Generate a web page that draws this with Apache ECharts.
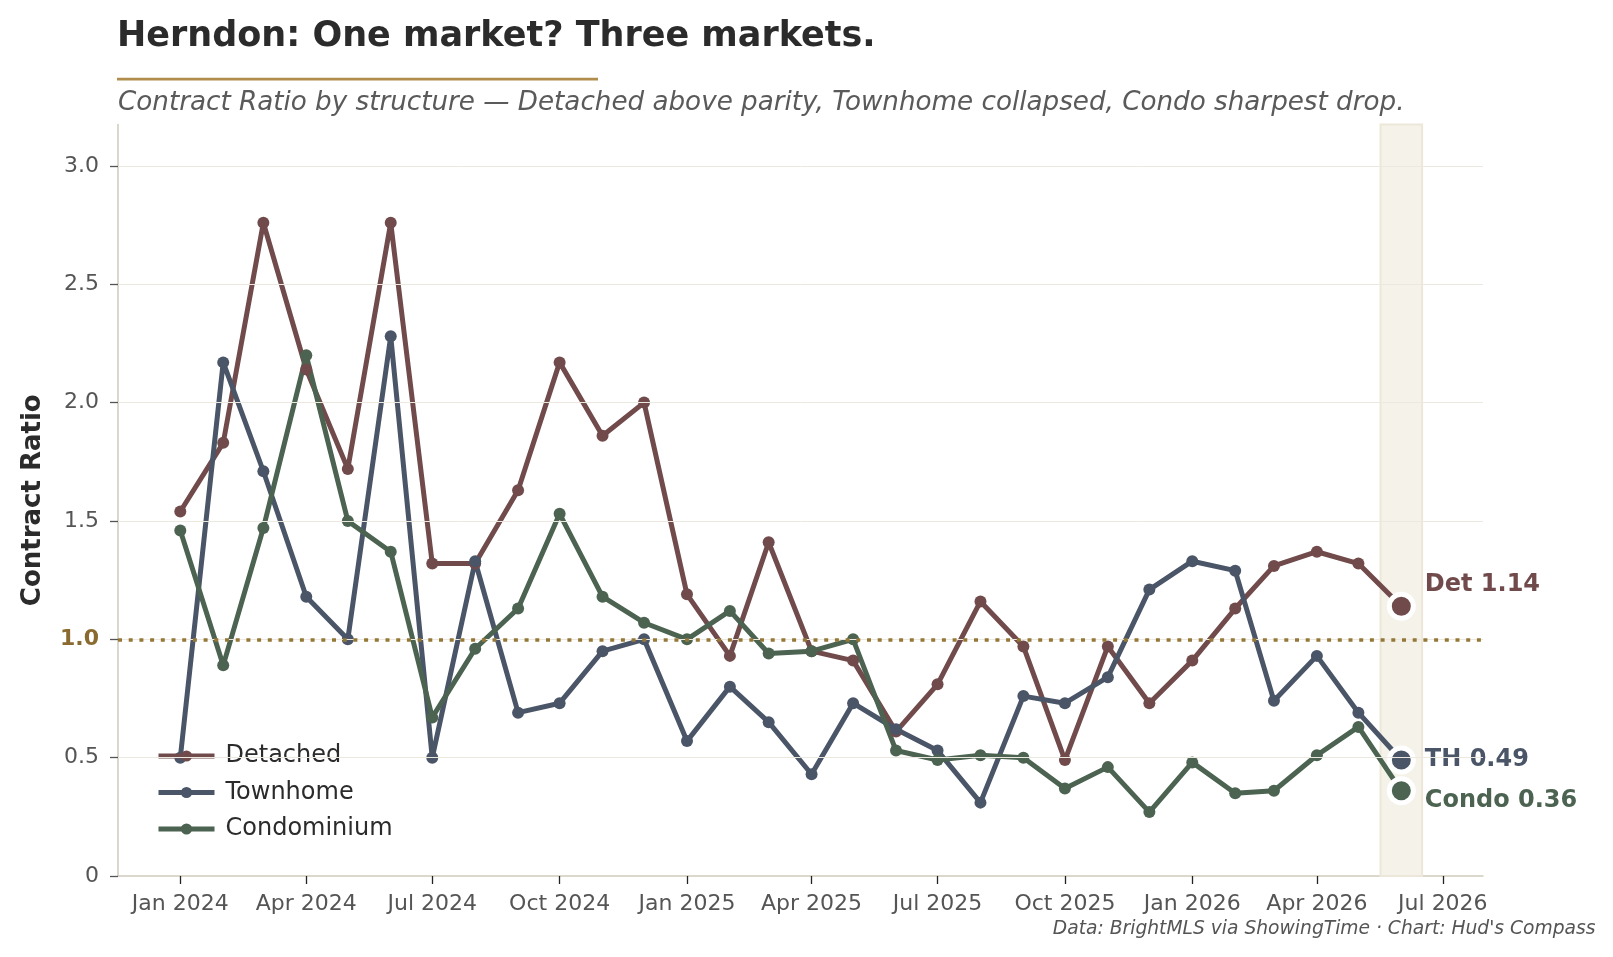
<!DOCTYPE html>
<html>
<head>
<meta charset="utf-8">
<script src="https://cdn.jsdelivr.net/npm/echarts@6/dist/echarts.min.js"></script>
<style>
  html, body { margin: 0; padding: 0; background: #fff; }
  #chart { width: 1613px; height: 957px; }
</style>
</head>
<body>
<div id="chart"></div>
<script>
// monthly contract ratio, Herndon
const months = [
  '2024-01-01', '2024-02-01', '2024-03-01', '2024-04-01', '2024-05-01', '2024-06-01',
  '2024-07-01', '2024-08-01', '2024-09-01', '2024-10-01', '2024-11-01', '2024-12-01',
  '2025-01-01', '2025-02-01', '2025-03-01', '2025-04-01', '2025-05-01', '2025-06-01',
  '2025-07-01', '2025-08-01', '2025-09-01', '2025-10-01', '2025-11-01', '2025-12-01',
  '2026-01-01', '2026-02-01', '2026-03-01', '2026-04-01', '2026-05-01', '2026-06-01'
]
const detached = [1.54, 1.83, 2.76, 2.14, 1.72, 2.76, 1.32, 1.32, 1.63, 2.17, 1.86, 2.00,
  1.19, 0.93, 1.41, 0.95, 0.91, 0.61, 0.81, 1.16, 0.97, 0.49, 0.97, 0.73,
  0.91, 1.13, 1.31, 1.37, 1.32, 1.14]
const townhome = [0.50, 2.17, 1.71, 1.18, 1.00, 2.28, 0.50, 1.33, 0.69, 0.73, 0.95, 1.00,
  0.57, 0.80, 0.65, 0.43, 0.73, 0.62, 0.53, 0.31, 0.76, 0.73, 0.84, 1.21,
  1.33, 1.29, 0.74, 0.93, 0.69, 0.49]
const condo = [1.46, 0.89, 1.47, 2.20, 1.50, 1.37, 0.67, 0.96, 1.13, 1.53, 1.18, 1.07,
  1.00, 1.12, 0.94, 0.95, 1.00, 0.53, 0.49, 0.51, 0.50, 0.37, 0.46, 0.27,
  0.48, 0.35, 0.36, 0.51, 0.63, 0.36]

const seriesNames = ['Detached', 'Townhome', 'Condominium']
const endTags = ['Det', 'TH', 'Condo']
const yTicks = [0, 0.5, 1.0, 1.5, 2.0, 2.5, 3.0]
const xTicks = ['2024-01-01', '2024-04-01', '2024-07-01', '2024-10-01', '2025-01-01', '2025-04-01',
  '2025-07-01', '2025-10-01', '2026-01-01', '2026-04-01', '2026-07-01']
const monthNames = ['Jan', 'Feb', 'Mar', 'Apr', 'May', 'Jun', 'Jul', 'Aug', 'Sep', 'Oct', 'Nov', 'Dec']
const parity = 1.0
const latestBand = ['2026-05-17', '2026-06-16']
const xRange = ['2023-11-17', '2026-07-30']

const colors = ['#714b4b', '#4a5568', '#4b6350']
const gold = '#b08d4a'
const font = '"DejaVu Sans"'

// local-time timestamp so the axis and the formatter agree
const ts = (s) => {
  const [y, m, d] = s.split('-').map(Number)
  return new Date(y, m - 1, d).getTime()
}

const labelOffsets = [[0, -21], [0, 0], [0, 10]]

const buildSeries = (i, vals) => {
  const data = vals.map((v, k) => {
    const item = { value: [ts(months[k]), v] }
    if (k === vals.length - 1) {
      item.symbolSize = 24
      item.itemStyle = { color: colors[i], borderColor: '#fff', borderWidth: 5 }
      item.label = {
        show: true,
        position: 'right',
        distance: 9,
        offset: labelOffsets[i],
        formatter: endTags[i] + ' ' + v.toFixed(2),
        fontFamily: font,
        fontWeight: 'bold',
        fontSize: 24,
        color: colors[i],
      }
    }
    return item
  })
  return {
    name: seriesNames[i],
    type: 'line',
    data,
    symbol: 'circle',
    symbolSize: 12,
    lineStyle: { width: 5, color: colors[i] },
    itemStyle: { color: colors[i] },
    z: 3,
  }
}

const chart = echarts.init(document.getElementById('chart'), null, { renderer: 'canvas' })

const option = {
  animation: false,
  backgroundColor: '#fff',
  textStyle: { fontFamily: font },
  grid: { left: 118, right: 130, top: 124.5, bottom: 81, containLabel: false, outerBoundsMode: 'none' },
  legend: {
    data: seriesNames,
    orient: 'vertical',
    left: 151,
    top: 739,
    itemWidth: 56,
    itemHeight: 14,
    itemGap: 12.5,
    lineStyle: { width: 5 },
    textStyle: { fontSize: 24, color: '#2b2b2b', fontFamily: font, padding: [0, 0, 0, 6] },
  },
  xAxis: {
    // dates as timestamps on a value axis so the quarter ticks can be placed exactly
    type: 'value',
    min: ts(xRange[0]),
    max: ts(xRange[1]),
    splitLine: { show: false },
    axisLine: { show: true, lineStyle: { color: '#cfcabd', width: 1.5 } },
    axisTick: { show: true, length: 8, lineStyle: { color: '#222', width: 1.3 }, customValues: xTicks.map(ts) },
    axisLabel: {
      customValues: xTicks.map(ts),
      margin: 17,
      fontSize: 22,
      color: '#555',
      fontFamily: font,
      formatter: (v) => {
        const d = new Date(v)
        return monthNames[d.getMonth()] + ' ' + d.getFullYear()
      },
    },
  },
  yAxis: {
    type: 'value',
    min: 0,
    max: 3.175,
    splitLine: { show: false },
    axisLine: { show: true, lineStyle: { color: '#cfcabd', width: 1.5 } },
    axisTick: { show: true, length: 8, lineStyle: { color: '#555', width: 1.3 }, customValues: yTicks },
    axisLabel: {
      customValues: yTicks,
      margin: 19,
      fontSize: 22,
      color: '#555',
      fontFamily: font,
      formatter: (v) => {
        if (v === 0) return '0'
        if (v === parity) return '{par|' + v.toFixed(1) + '}'
        return v.toFixed(1)
      },
      rich: {
        par: { fontSize: 22, fontWeight: 'bold', color: '#8a6a2e', fontFamily: font },
      },
    },
    name: 'Contract Ratio',
    nameLocation: 'middle',
    nameGap: 72,
    nameTextStyle: { fontSize: 26, fontWeight: 'bold', color: '#2b2b2b', fontFamily: font },
  },
  series: [
    {
      // background layer: gridlines, latest-month band, parity line
      type: 'line',
      data: [],
      silent: true,
      z: 1,
      markArea: {
        silent: true,
        itemStyle: { color: '#f5f2e9', borderColor: '#ece7d8', borderWidth: 2 },
        data: [[{ xAxis: ts(latestBand[0]) }, { xAxis: ts(latestBand[1]) }]],
      },
      markLine: {
        silent: true,
        symbol: 'none',
        label: { show: false },
        lineStyle: { color: '#ebe8e0', width: 1, type: 'solid' },
        data: yTicks.filter(v => v > 0).map(v => ({ yAxis: v }))
          .concat([{ yAxis: parity, lineStyle: { color: '#957838', width: 3.5, type: [4, 6.7], cap: 'butt' } }]),
      },
    },
    buildSeries(0, detached),
    buildSeries(1, townhome),
    buildSeries(2, condo),
  ],
  graphic: [
    {
      type: 'text', x: 117, y: 37,
      style: { text: 'Herndon: One market? Three markets.', font: 'bold 35px ' + font, fill: '#2b2b2b', verticalAlign: 'middle' },
    },
    {
      type: 'rect', shape: { x: 117, y: 77.7, width: 481, height: 2.7 },
      style: { fill: gold },
    },
    {
      type: 'text', x: 118, y: 103,
      style: {
        text: 'Contract Ratio by structure \u2014 Detached above parity, Townhome collapsed, Condo sharpest drop.',
        font: 'italic 26.2px ' + font, fill: '#5a5a5a', verticalAlign: 'middle',
      },
    },
    {
      type: 'text', x: 1595.5, y: 929,
      style: {
        text: 'Data: BrightMLS via ShowingTime \u00b7 Chart: Hud\'s Compass',
        font: 'italic 18.7px ' + font, fill: '#555', align: 'right', verticalAlign: 'middle',
      },
    },
  ],
}

chart.setOption(option)
window.addEventListener('resize', () => chart.resize())
</script>
</body>
</html>
